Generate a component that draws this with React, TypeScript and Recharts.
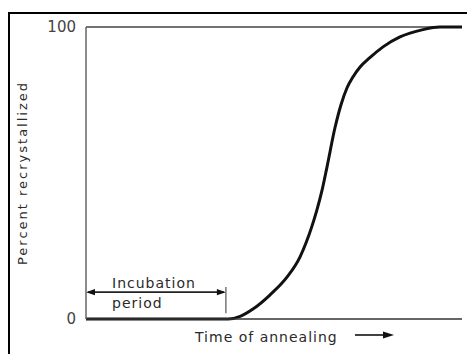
import React from 'react';
import { ComposedChart, Line, XAxis, YAxis, ReferenceLine, Label } from 'recharts';

// Recrystallization curve: time of annealing (arbitrary units, 0–100) vs percent recrystallized
const time = [0, 20, 37.8, 41.0, 44.4, 48.9, 53.5, 56.9, 58.5, 60.1, 61.4, 62.8, 64.1, 66.2, 67.8, 69.4, 71.0, 72.9, 75.5, 79.0, 83.5, 89.6, 94.1, 100];
const percent = [0, 0, 0, 0.9, 3.4, 8.2, 14.4, 21.2, 26.0, 31.8, 37.3, 44.2, 52.1, 65.4, 73.3, 79.1, 82.9, 86.3, 89.5, 93.2, 96.6, 99.1, 100, 100];
const yTicks = [0, 100];
const incubationEnd = 37.2;
const incubationLevel = 9.2;
const incubationTick = [2, 11];

const curve = time.map((t, i) => ({ t, p: percent[i] }));

const FONT = '"DejaVu Sans", sans-serif';
const TEXT = '#2a2a2a';

// Horizontal double-headed arrow for the incubation span
const DoubleArrow = (props: any) => {
  const { x1, y1, x2 } = props;
  const h = 5;
  const w = 9;
  return (
    <g>
      <line x1={x1 + 2} y1={y1} x2={x2 - 2} y2={y1} stroke="#222" strokeWidth={1.6} />
      <polygon points={`${x1},${y1} ${x1 + w},${y1 - h / 1.6} ${x1 + w},${y1 + h / 1.6}`} fill="#111" />
      <polygon points={`${x2},${y1} ${x2 - w},${y1 - h / 1.6} ${x2 - w},${y1 + h / 1.6}`} fill="#111" />
    </g>
  );
};

const IncubationLabel = (props: any) => {
  const vb = props.viewBox || {};
  const x = vb.x ?? 0;
  const y = vb.y ?? 0;
  return (
    <g fontFamily={FONT} fontSize={14} fill={TEXT} letterSpacing={1}>
      <text x={x + 26} y={y - 4}>Incubation</text>
      <text x={x + 26} y={y + 16}>period</text>
    </g>
  );
};

const TimeLabel = (props: any) => {
  const vb = props.viewBox || {};
  const x = vb.x ?? 0;
  const y = vb.y ?? 0;
  const ay = y + 16;
  return (
    <g>
      <text x={x + 109} y={y + 23} fontFamily={FONT} fontSize={14} fill={TEXT} letterSpacing={1}>
        Time of annealing
      </text>
      <line x1={x + 269} y1={ay} x2={x + 298} y2={ay} stroke="#111" strokeWidth={1.6} />
      <polygon points={`${x + 308},${ay} ${x + 297},${ay - 3.5} ${x + 297},${ay + 3.5}`} fill="#111" />
    </g>
  );
};

const PercentLabel = (props: any) => {
  const vb = props.viewBox || {};
  const cx = (vb.x ?? 0) + 22;
  const cy = (vb.y ?? 0) + (vb.height ?? 0) / 2;
  return (
    <text
      x={cx}
      y={cy}
      transform={`rotate(-90, ${cx}, ${cy})`}
      textAnchor="middle"
      dominantBaseline="central"
      fontFamily={FONT}
      fontSize={13}
      fill={TEXT}
      letterSpacing={2}
    >
      Percent recrystallized
    </text>
  );
};

export default function App() {
  return (
    <div style={{ position: 'absolute', left: 0, top: 0, width: 467, height: 354, background: '#fff' }}>
      <div
        style={{
          position: 'absolute',
          left: 8,
          top: 12,
          right: 0,
          bottom: 0,
          borderLeft: '2.5px solid #000',
          borderTop: '2.5px solid #000',
        }}
      />
      <div style={{ position: 'absolute', left: 0, top: 0 }}>
        <ComposedChart width={467} height={354} data={curve} margin={{ top: 27, right: 5, bottom: 0, left: 0 }}>
          <XAxis
            dataKey="t"
            type="number"
            domain={[0, 100]}
            tick={false}
            tickLine={false}
            height={35}
            axisLine={{ stroke: '#333', strokeWidth: 1.5 }}
          >
            <Label content={<TimeLabel />} />
          </XAxis>
          <YAxis
            type="number"
            domain={[0, 100]}
            ticks={yTicks}
            width={86}
            tickLine={false}
            tickSize={0}
            tickMargin={10}
            axisLine={{ stroke: '#666', strokeWidth: 1.5 }}
            tick={{ fontFamily: FONT, fontSize: 15, fill: '#444' }}
          >
            <Label content={<PercentLabel />} />
          </YAxis>
          <ReferenceLine y={100} stroke="#444" strokeWidth={1.5} />
          <ReferenceLine
            segment={[
              { x: 0, y: incubationLevel },
              { x: incubationEnd, y: incubationLevel },
            ]}
            shape={<DoubleArrow />}
          >
            <Label content={<IncubationLabel />} />
          </ReferenceLine>
          <ReferenceLine
            segment={[
              { x: incubationEnd, y: incubationTick[0] },
              { x: incubationEnd, y: incubationTick[1] },
            ]}
            stroke="#777"
            strokeWidth={1.5}
          />
          <Line
            dataKey="p"
            type="monotone"
            stroke="#111"
            strokeWidth={3}
            dot={false}
            isAnimationActive={false}
          />
        </ComposedChart>
      </div>
    </div>
  );
}
